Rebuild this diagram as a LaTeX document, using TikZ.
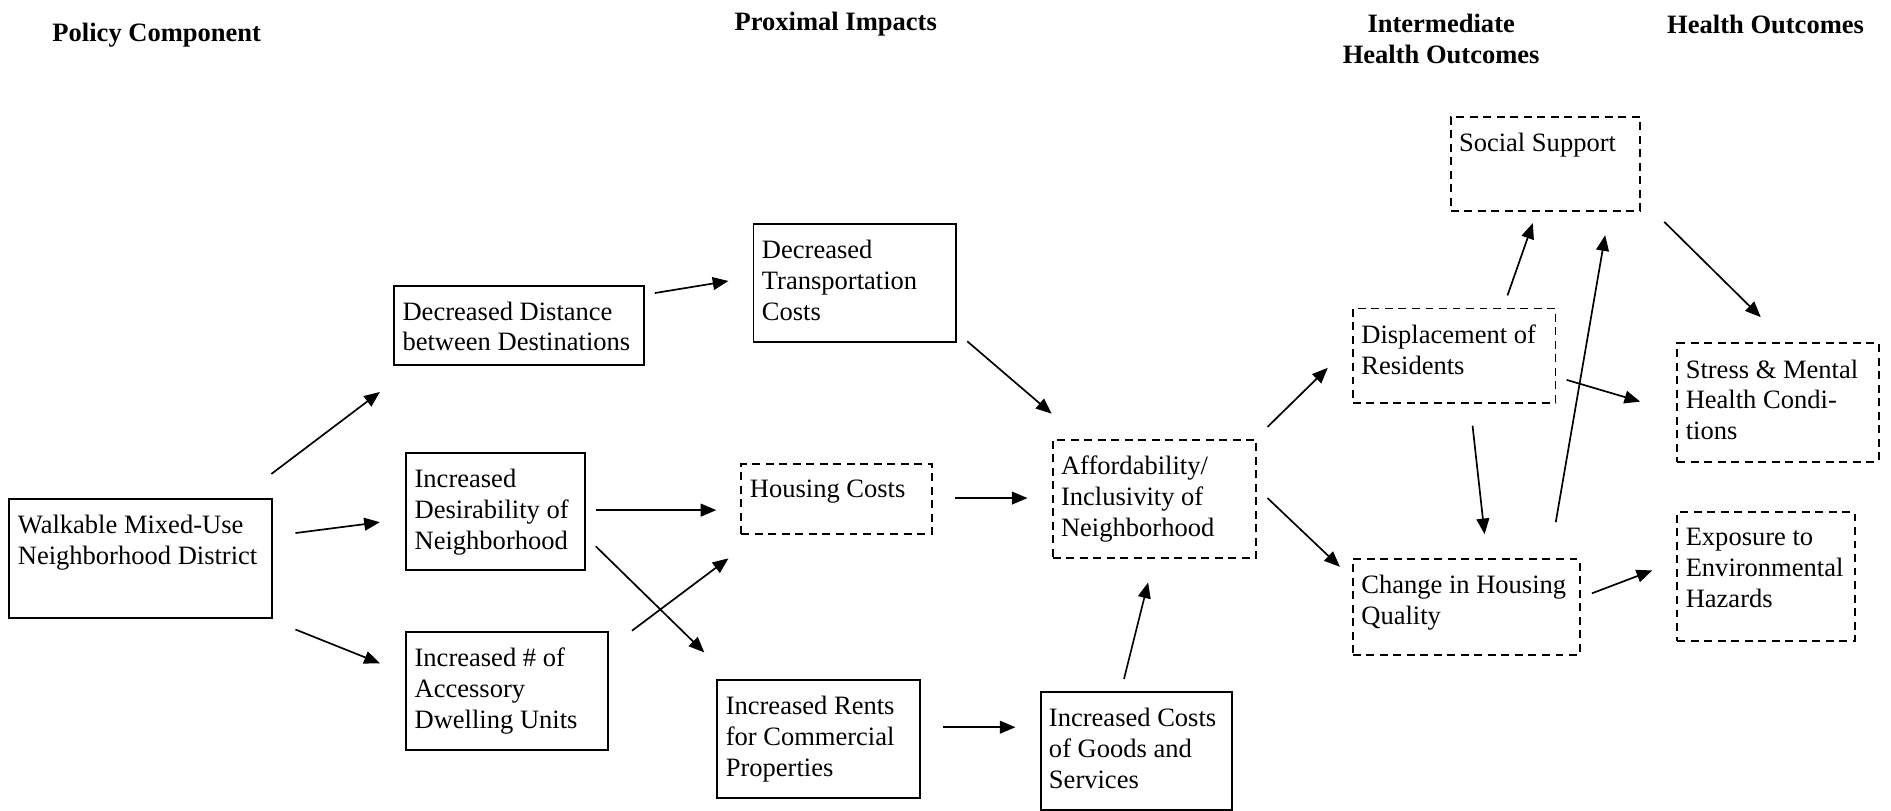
\documentclass[tikz,border=0pt]{standalone}
\usepackage{fontspec}
\setmainfont{Liberation Serif}
\usetikzlibrary{arrows.meta}
\tikzset{
  base/.style={inner sep=0pt, anchor=north west, line width=0.8pt},
  solidbox/.style={base, draw},
  dashbox/.style={base, draw, dash pattern=on 3.3pt off 2.3pt},
  txt/.style={inner sep=0pt, anchor=north west, align=left, font=\fontsize{11}{12.75}\selectfont},
  head/.style={inner sep=0pt, align=center, font=\fontsize{11}{12.75}\selectfont\bfseries},
  arr/.style={-{Triangle[length=6.5pt,width=5.3pt]}, line width=0.7pt},
  tsh/.style={shift={(3.7pt,-6.9pt)}}
}
\begin{document}
\begin{tikzpicture}[x=0.5pt,y=-0.5pt]
\useasboundingbox (0,0) rectangle (1568,672);
% headers
\node[head] (h1) at (130,29) {Policy Component};
\node[head] (h2) at (693,20) {Proximal Impacts};
\node[head] (h3) at (1195,32) {Intermediate\\Health Outcomes};
\node[head] (h4) at (1464,20) {Health Outcomes};
% boxes
\node[solidbox, minimum width=109pt, minimum height=49.5pt] (walk) at (7,413) {};
\node[txt] (walk-t) at ([tsh]walk.north west) {Walkable Mixed-Use\\Neighborhood District};
\node[solidbox, minimum width=103.5pt, minimum height=33pt] (dist) at (326,236) {};
\node[txt] (dist-t) at ([tsh]dist.north west) {Decreased Distance\\between Destinations};
\node[solidbox, minimum width=74pt, minimum height=48.5pt] (des) at (336,375) {};
\node[txt] (des-t) at ([tsh]des.north west) {Increased\\Desirability of\\Neighborhood};
\node[solidbox, minimum width=83.5pt, minimum height=49pt] (num) at (336,523) {};
\node[txt] (num-t) at ([tsh]num.north west) {Increased \# of\\Accessory\\Dwelling Units};
\node[solidbox, minimum width=84pt, minimum height=49pt] (transp) at (624,185) {};
\node[txt] (transp-t) at ([tsh]transp.north west) {Decreased\\Transportation\\Costs};
\node[dashbox, minimum width=79pt, minimum height=29pt] (housing) at (614,384) {};
\node[txt] (housing-t) at ([tsh]housing.north west) {Housing Costs};
\node[solidbox, minimum width=84pt, minimum height=49pt] (rents) at (594,563) {};
\node[txt] (rents-t) at ([tsh]rents.north west) {Increased Rents\\for Commercial\\Properties};
\node[dashbox, minimum width=84.5pt, minimum height=49pt] (afford) at (872,364) {};
\node[txt] (afford-t) at ([tsh]afford.north west) {Affordability/\\Inclusivity of\\Neighborhood};
\node[solidbox, minimum width=79.5pt, minimum height=49pt] (costs) at (862,573) {};
\node[txt] (costs-t) at ([tsh]costs.north west) {Increased Costs\\of Goods and\\Services};
\node[dashbox, minimum width=78.5pt, minimum height=39pt] (social) at (1202,96) {};
\node[txt] (social-t) at ([tsh]social.north west) {Social Support};
\node[dashbox, minimum width=84pt, minimum height=39pt] (displ) at (1121,255) {};
\node[txt] (displ-t) at ([tsh]displ.north west) {Displacement of\\Residents};
\node[dashbox, minimum width=94pt, minimum height=39.5pt] (change) at (1121,463) {};
\node[txt] (change-t) at ([tsh]change.north west) {Change in Housing\\Quality};
\node[dashbox, minimum width=83.5pt, minimum height=49pt] (stress) at (1390,284) {};
\node[txt] (stress-t) at ([tsh]stress.north west) {Stress \& Mental\\Health Condi-\\tions};
\node[dashbox, minimum width=73.5pt, minimum height=53.5pt] (expo) at (1390,424) {};
\node[txt] (expo-t) at ([tsh]expo.north west) {Exposure to\\Environmental\\Hazards};
% arrow end points
\coordinate (a1s) at (225,393); \coordinate (a1e) at (315,325);
\coordinate (a2s) at (245,442); \coordinate (a2e) at (315,433);
\coordinate (a3s) at (245,522); \coordinate (a3e) at (315,550);
\coordinate (a4s) at (543,243); \coordinate (a4e) at (604,233);
\coordinate (a5s) at (494,423); \coordinate (a5e) at (594,423);
\coordinate (a6s) at (494,453); \coordinate (a6e) at (584,541);
\coordinate (a7s) at (524,523); \coordinate (a7e) at (604,463);
\coordinate (a8s) at (802,283); \coordinate (a8e) at (872,343);
\coordinate (a9s) at (792,413); \coordinate (a9e) at (852,413);
\coordinate (a10s) at (782,603); \coordinate (a10e) at (842,603);
\coordinate (a11s) at (932,563); \coordinate (a11e) at (952,483);
\coordinate (a12s) at (1051,354); \coordinate (a12e) at (1101,305);
\coordinate (a13s) at (1051,413); \coordinate (a13e) at (1111,470);
\coordinate (a14s) at (1250,245); \coordinate (a14e) at (1271,185);
\coordinate (a15s) at (1221,353); \coordinate (a15e) at (1231,443);
\coordinate (a16s) at (1290,433); \coordinate (a16e) at (1331,195);
\coordinate (a17s) at (1299,315); \coordinate (a17e) at (1360,333);
\coordinate (a18s) at (1380,184); \coordinate (a18e) at (1460,263);
\coordinate (a19s) at (1320,492); \coordinate (a19e) at (1370,473);
\foreach \i in {1,...,19} { \draw[arr] (a\i s) -- (a\i e); }
\end{tikzpicture}
\end{document}
